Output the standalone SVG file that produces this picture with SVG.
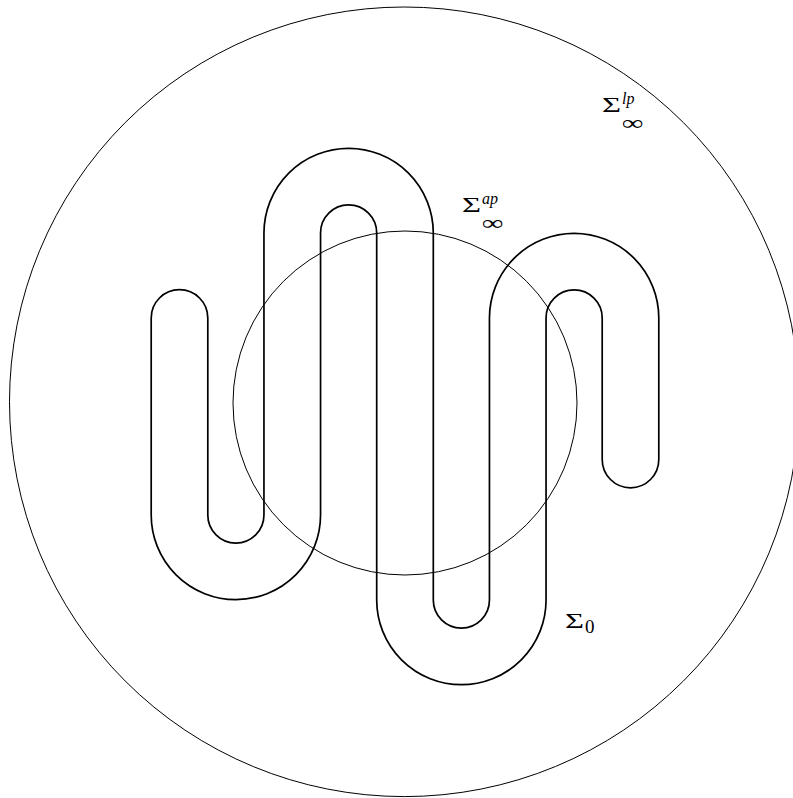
<svg xmlns="http://www.w3.org/2000/svg" width="793" height="798" viewBox="0 0 793 798">
<style>
.thin{fill:none;stroke:#000;stroke-width:1}
.tube{fill:none;stroke:#000;stroke-width:1.7;stroke-linejoin:round}
.lbl{font-family:"Liberation Serif","Times New Roman",serif;fill:#000}
.it{font-style:italic}
</style>
<rect width="793" height="798" fill="#fff"/>
<g id="outer-circle"><circle class="thin" cx="404.3" cy="401.8" r="394.8"/></g>
<g id="tube">
<path class="tube" d="M151.2,318 L151.2,515 A84.675,84.675 0 0 0 320.55,515 L320.55,233 A28.075,28.075 0 0 1 376.7,233 L376.7,600 A84.675,84.675 0 0 0 546.05,600 L546.05,318 A28.075,28.075 0 0 1 602.2,318 L602.2,459.5 A28.3,28.3 0 0 0 658.8,459.5 L658.8,318 A84.675,84.675 0 0 0 489.45,318 L489.45,600 A28.075,28.075 0 0 1 433.3,600 L433.3,233 A84.675,84.675 0 0 0 263.95,233 L263.95,515 A28.075,28.075 0 0 1 207.8,515 L207.8,318 A28.3,28.3 0 0 0 151.2,318 Z"/>
</g>
<g id="inner-circle"><circle class="thin" cx="405" cy="403" r="172"/></g>
<g id="label-lp">
<text class="lbl" x="602" y="112" font-size="20" textLength="19" lengthAdjust="spacingAndGlyphs">Σ</text>
<text class="lbl it" x="622" y="104" font-size="16">lp</text>
<text class="lbl" x="621.5" y="129.5" font-size="21" textLength="22" lengthAdjust="spacingAndGlyphs">∞</text>
</g>
<g id="label-ap">
<text class="lbl" x="462" y="212" font-size="20" textLength="19" lengthAdjust="spacingAndGlyphs">Σ</text>
<text class="lbl it" x="482" y="204" font-size="16">ap</text>
<text class="lbl" x="481.5" y="229.5" font-size="21" textLength="22" lengthAdjust="spacingAndGlyphs">∞</text>
</g>
<g id="label-0">
<text class="lbl" x="565" y="628" font-size="20" textLength="19" lengthAdjust="spacingAndGlyphs">Σ</text>
<text class="lbl" x="585" y="632.5" font-size="19">0</text>
</g>
</svg>
